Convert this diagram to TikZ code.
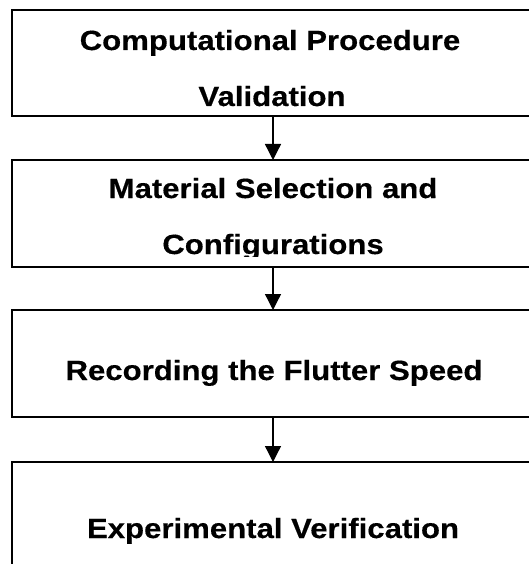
\documentclass[tikz,border=0pt]{standalone}
\usepackage{fontspec}
\setmainfont{Liberation Sans}[FakeStretch=1.12,FakeBold=0.4]
\usetikzlibrary{arrows.meta}
\begin{document}
\begin{tikzpicture}[x=1bp,y=-1bp,
  stagebox/.style={draw=black,line width=1.5bp,minimum width=522bp,inner sep=0pt,outer sep=0pt},
  stagetext/.style={anchor=base,font=\bfseries\fontsize{27.8bp}{30bp}\selectfont,inner sep=0pt},
  flow/.style={line width=1.3bp,-{Triangle[width=16bp,length=16bp]}}]
\useasboundingbox (0,0) rectangle (529,564);
\clip (0,0) rectangle (529,564);
\node[stagebox,minimum height=106bp] (b1) at (273,63) {};
\node[stagebox,minimum height=107bp] (b2) at (273,213.5) {};
\node[stagebox,minimum height=107bp] (b3) at (273,363.5) {};
\node[stagebox,minimum height=132bp] (b4) at (273,528) {};
\node[stagetext] (t1a) at (270,50) {Computational Procedure};
\node[stagetext] (t1b) at (272,106) {Validation};
\begin{scope}
\clip (0,160) rectangle (529,256);
\node[stagetext] (t2a) at (273,198) {Material Selection and};
\node[stagetext] (t2b) at (273,254) {Configurations};
\end{scope}
\node[stagetext] (t3) at (274,380) {Recording the Flutter Speed};
\node[stagetext] (t4) at (273,538) {Experimental Verification};
\draw[flow] (b1.south) -- (b2.north);
\draw[flow] (b2.south) -- (b3.north);
\draw[flow] (b3.south) -- (b4.north);
\end{tikzpicture}
\end{document}
